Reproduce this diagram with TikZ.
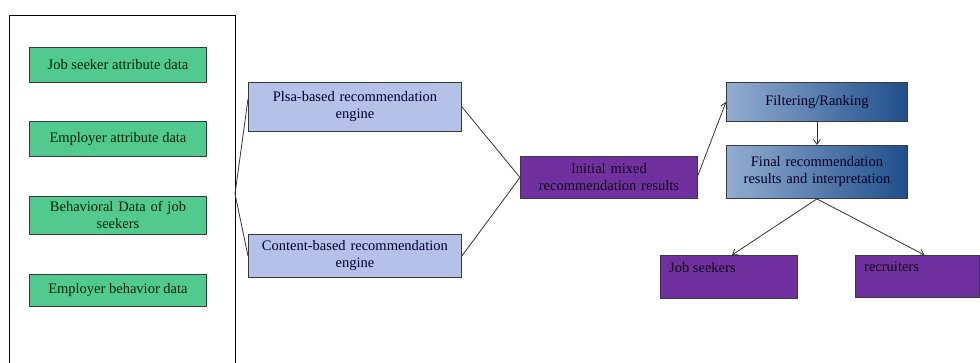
\documentclass[tikz,border=0pt]{standalone}
\usepackage{fontspec}
\setmainfont{Liberation Serif}
\usetikzlibrary{arrows.meta,calc}
\definecolor{gfill}{HTML}{52C98F}
\definecolor{lfill}{HTML}{B5C1E6}
\definecolor{pfill}{HTML}{7030A0}
\definecolor{bl}{HTML}{93ADD0}
\definecolor{bd}{HTML}{1F4E8C}
\definecolor{bord}{HTML}{3A3A3A}
\tikzset{
  base/.style={draw=bord, line width=0.9pt, anchor=north west, inner sep=2pt,
    font=\fontsize{14.5}{17}\selectfont, align=center},
  gbox/.style={base, fill=gfill, text=black!85!green, minimum width=177pt},
  lbox/.style={base, fill=lfill, text=black!80!blue, minimum width=213pt, text width=205pt},
  pbox/.style={base, fill=pfill, text=black!85!pfill},
  bbox/.style={base, left color=bl, right color=bd, text=black!85!blue, minimum width=181pt, text width=175pt},
  tl/.style={anchor=north west, inner sep=0pt, xshift=9pt, yshift=-7pt,
    font=\fontsize{14.5}{17}\selectfont, text=black!85!pfill},
  conn/.style={draw=black!80, line width=0.8pt},
  arr/.style={conn, -{Straight Barb[length=5pt,width=7pt]}},
}
\begin{document}
\begin{tikzpicture}[x=1pt,y=-1pt]
\useasboundingbox (0,0) rectangle (980,363);
\draw[line width=0.9pt] (9,400) -- (9,15) -- (235,15) -- (235,400);
\node[gbox, minimum height=35pt] (g1) at (29,47) {Job seeker attribute data};
\node[gbox, minimum height=35pt] (g2) at (29,121) {Employer attribute data};
\node[gbox, minimum height=38pt, text width=170pt] (g3) at (29,196) {Behavioral Data of job\\seekers};
\node[gbox, minimum height=32pt] (g4) at (29,274) {Employer behavior data};
\coordinate (fork) at (235,194);
\node[lbox, minimum height=49pt] (p) at (248,82) {Plsa-based recommendation\\engine};
\node[lbox, minimum height=43pt] (c) at (248,234) {Content-based recommendation\\engine};
\node[pbox, minimum width=177pt, minimum height=42pt, text width=170pt] (i) at (520,156) {Initial mixed\\recommendation results};
\node[bbox, minimum height=39pt] (f) at (726,82) {Filtering/Ranking};
\node[bbox, minimum height=53pt] (fin) at (726,145) {Final recommendation\\results and interpretation};
\node[pbox, minimum width=137pt, minimum height=43pt] (js) at (660,255) {};
\node[tl] (jst) at (js.north west) {Job seekers};
\node[pbox, minimum width=124pt, minimum height=42pt] (rec) at (855,255) {};
\node[tl] (rect) at (rec.north west) {recruiters};
\draw[conn] ([yshift=8pt]p.west) -- (fork) -- (c.west);
\draw[conn] (p.east) -- (i.west) -- (c.east);
\draw[arr] ([yshift=2pt]i.east) -- (f.west);
\draw[arr] (f.south) -- (fin.north);
\draw[arr] (fin.south) -- ([xshift=3pt]js.north);
\draw[arr] (fin.south) -- ([xshift=7pt]rec.north);
\end{tikzpicture}
\end{document}
